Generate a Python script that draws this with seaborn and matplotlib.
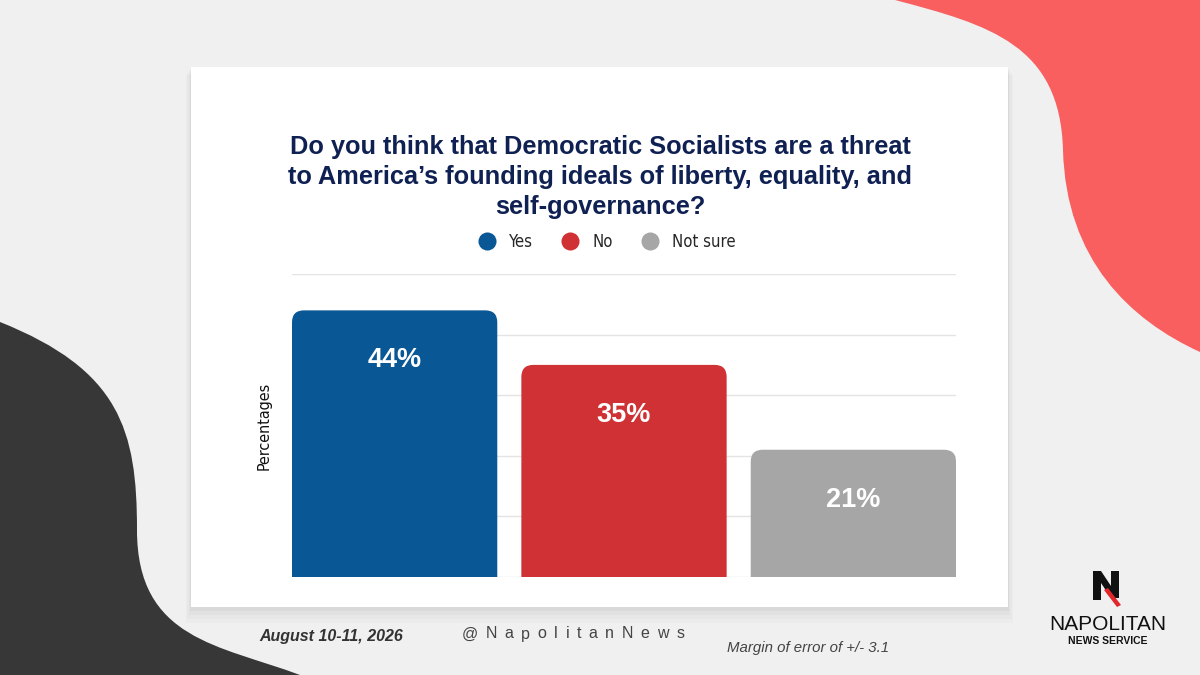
import matplotlib
matplotlib.use('Agg')
import matplotlib.pyplot as plt
from matplotlib.patches import FancyBboxPatch, PathPatch, Rectangle, Polygon
from matplotlib.path import Path
from matplotlib.lines import Line2D
import seaborn as sns
import pandas as pd

# data
answers = ['Yes', 'No', 'Not sure']
shares = [44, 35, 21]
colors = ['#0a5796', '#cf3134', '#a6a6a6']
yticks = [0, 10, 20, 30, 40, 50]

title = ('Do you think that Democratic Socialists are a threat\n'
         'to America\u2019s founding ideals of liberty, equality, and\n'
         'self-governance?')

sns.set_theme(style='white')
plt.rcParams['font.family'] = ['Liberation Sans', 'DejaVu Sans']
narrow = {'family': 'DejaVu Sans', 'stretch': 'condensed'}

W, H = 1200, 675
fig = plt.figure(figsize=(12, 6.75), dpi=100)
fig.patch.set_facecolor('#f0f0f0')


def P(x, y):
    # pixel (top-left origin) -> figure fraction
    return (x / W, 1 - y / H)


def blob(verts, codes, color):
    pts = [P(x, y) for x, y in verts]
    fig.patches.append(PathPatch(Path(pts, codes), transform=fig.transFigure,
                                 facecolor=color, edgecolor='none', zorder=0))


C = Path.CURVE4
# red shape top right
blob([(895, 0), (990, 25), (1060, 45), (1063, 150),
      (1066, 260), (1130, 320), (1200, 352), (1200, 0), (895, 0)],
     [Path.MOVETO, C, C, C, C, C, C, Path.LINETO, Path.CLOSEPOLY], '#f95f5f')
# dark shape bottom left
blob([(0, 322), (120, 370), (137, 430), (137, 530),
      (137, 640), (220, 645), (300, 675), (0, 675), (0, 322)],
     [Path.MOVETO, C, C, C, C, C, C, Path.LINETO, Path.CLOSEPOLY], '#373737')

# card shadow + card
for i, a in enumerate([0.015, 0.02, 0.025, 0.03]):
    g = 16 - i * 4
    x0, y0 = P(191 - g * 0.3, 607 + g)
    x1, y1 = P(1008 + g * 0.3, 67 + g * 0.5)
    fig.patches.append(Rectangle((x0, y0), x1 - x0, y1 - y0, transform=fig.transFigure,
                                 facecolor='black', alpha=a, edgecolor='none', zorder=1))
x0, y0 = P(191, 607)
x1, y1 = P(1008, 67)
fig.patches.append(Rectangle((x0, y0), x1 - x0, y1 - y0, transform=fig.transFigure,
                             facecolor='white', edgecolor='none', zorder=2))

# axes
ax = fig.add_axes([292 / W, 1 - 577 / H, 664 / W, 303 / H])
ax.set_zorder(5)
ax.set_facecolor('none')
df = pd.DataFrame({'answer': answers, 'share': shares})
bw = 0.895
sns.barplot(data=df, x='answer', y='share', hue='answer', palette=colors,
            width=bw, legend=False, ax=ax, saturation=1)
ax.set_xlim(-bw / 2, len(answers) - 1 + bw / 2)
ax.set_ylim(0, 50)
ax.set_yticks(yticks)
ax.yaxis.grid(True, color='#e4e4e4', linewidth=1)
ax.set_axisbelow(True)
ax.tick_params(left=False, bottom=False, labelleft=False, labelbottom=False)
for s in ax.spines.values():
    s.set_visible(False)
ax.set_xlabel('')
ax.set_ylabel('Percentages', fontsize=11.5, color='#111111', labelpad=15, **narrow)

# rounded-top bars replacing the plain ones
px_x = 664 / (len(answers) - 1 + bw)
px_y = 303 / 50
r = 12
for bar, c in zip(list(ax.patches), colors):
    x, w, h = bar.get_x(), bar.get_width(), bar.get_height()
    bar.set_visible(False)
    ax.add_patch(FancyBboxPatch((x, -5), w, h + 5,
                                boxstyle='round,pad=0,rounding_size=%f' % (r / px_x),
                                mutation_aspect=(r / px_y) / (r / px_x),
                                facecolor=c, edgecolor='none', zorder=3))
for i, v in enumerate(shares):
    ax.text(i, v - 50 / px_y, '%d%%' % v, ha='center', va='center', color='white',
            fontsize=19.5, fontweight='bold', zorder=4)

# title + legend
fig.text(*P(600, 177), title, ha='center', va='center', fontsize=18.3,
         fontweight='bold', color='#0f2052', linespacing=1.3)
handles = [Line2D([], [], marker='o', linestyle='none', markersize=13,
                  markerfacecolor=c, markeredgecolor='none') for c in colors]
fig.legend(handles, answers, loc='center', bbox_to_anchor=P(603, 242), ncol=3,
           frameon=False, handletextpad=0.3, columnspacing=1.25,
           prop={'size': 12, **narrow})

# footer
fig.text(*P(259, 637), 'August 10-11, 2026', fontsize=11.5, fontweight='bold',
         style='italic', color='#333333', va='center')
fig.text(*P(727, 648), 'Margin of error of +/- 3.1', fontsize=10.8, style='italic',
         color='#444444', va='center')
handle = '@NapolitanNews'
renderer = fig.canvas.get_renderer()
xpos = 462
for ch in handle:
    t = fig.text(*P(xpos, 634), ch, fontsize=11.5, color='#444444', va='center')
    xpos += t.get_window_extent(renderer).width + 7.6

# logo
black = '#111111'
for poly in [[(1093, 571), (1101, 571), (1101, 600), (1093, 600)],
             [(1093, 571), (1101, 571), (1119, 598), (1111, 598)],
             [(1111, 571), (1119, 571), (1119, 598), (1111, 598)]]:
    fig.patches.append(Polygon([P(x, y) for x, y in poly], closed=True,
                               transform=fig.transFigure, facecolor=black,
                               edgecolor='none', zorder=3))
fig.patches.append(Polygon([P(x, y) for x, y in
                            [(1104, 590), (1108, 588), (1121, 605), (1117, 607)]],
                           closed=True, transform=fig.transFigure, facecolor='#e2262c',
                           edgecolor='none', zorder=4))
fig.text(*P(1108, 625), 'NAPOLITAN', ha='center', va='center', fontsize=15,
         color=black)
fig.text(*P(1108, 641), 'NEWS SERVICE', ha='center', va='center', fontsize=7.5,
         fontweight='bold', color=black)

fig.savefig('out.png', dpi=100, facecolor=fig.get_facecolor())
